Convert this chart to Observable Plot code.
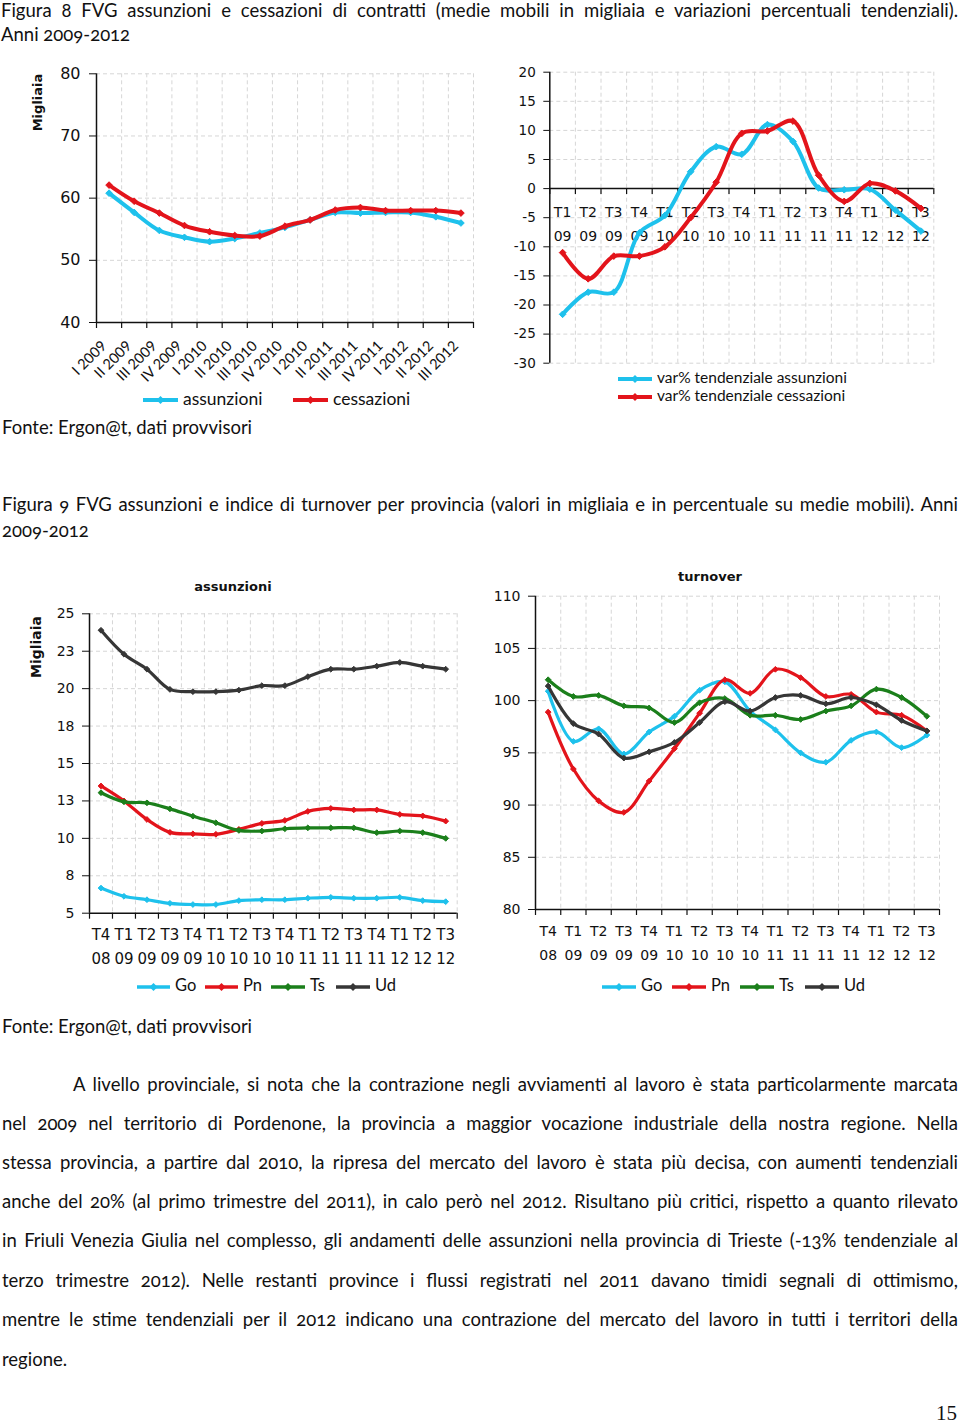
<!DOCTYPE html>
<html><head><meta charset="utf-8">
<script src="https://cdn.jsdelivr.net/npm/d3@7"></script>
<script src="https://cdn.jsdelivr.net/npm/@observablehq/plot@0.6"></script>
<style>
body{margin:0;background:#fff;}
#page{position:relative;width:960px;height:1425px;overflow:hidden;background:#fff;color:#111;font-family:Lato,"Open Sans",sans-serif;}
.tl{position:absolute;white-space:nowrap;line-height:1;font-variant-numeric:oldstyle-nums;}
.ch{position:absolute;}
.ch svg{max-width:none;overflow:visible;}
</style>
</head><body><div id="page"></div>
<script>
// ---------------- DATA ----------------
// Figura 8 (left): medie mobili in migliaia
const quarters8 = ["I 2009","II 2009","III 2009","IV 2009","I 2010","II 2010","III 2010","IV 2010","I 2010","II 2011","III 2011","IV 2011","I 2012","II 2012","III 2012"];
const assunzioni = [60.8,57.7,54.8,53.7,53.0,53.5,54.4,55.3,56.5,57.7,57.6,57.7,57.7,57.0,56.0];
const cessazioni = [62.1,59.5,57.6,55.6,54.6,54.0,53.9,55.5,56.5,58.1,58.5,58.0,58.0,58.0,57.6];
const yTicks8L = [40,50,60,70,80];

// Figura 8 (right): var% tendenziali
const quarterT8 = ["T1","T2","T3","T4","T1","T2","T3","T4","T1","T2","T3","T4","T1","T2","T3"];
const yearT8 = ["09","09","09","09","10","10","10","10","11","11","11","11","12","12","12"];
const varAssunzioni = [-21.6,-17.8,-17.8,-7.6,-4.6,2.9,7.2,5.9,11.0,8.1,0.1,-0.2,-0.1,-3.7,-7.3];
const varCessazioni = [-11.0,-15.5,-11.6,-11.6,-10.0,-5.0,1.1,9.5,9.9,11.6,2.3,-2.2,0.9,-0.4,-3.4];
const yTicks8R = [-30,-25,-20,-15,-10,-5,0,5,10,15,20];

// Figura 9: per provincia
const quarter9 = ["T4","T1","T2","T3","T4","T1","T2","T3","T4","T1","T2","T3","T4","T1","T2","T3"];
const year9 = ["08","09","09","09","09","10","10","10","10","11","11","11","11","12","12","12"];
const assGo = [6.68,6.13,5.9,5.66,5.58,5.58,5.84,5.9,5.9,6.0,6.06,6.0,6.0,6.06,5.84,5.77];
const assPn = [13.5,12.5,11.26,10.4,10.3,10.27,10.6,11.0,11.2,11.8,12.0,11.9,11.9,11.6,11.5,11.15];
const assTs = [13.05,12.44,12.37,11.97,11.48,11.04,10.53,10.49,10.64,10.7,10.7,10.7,10.38,10.49,10.38,10.0];
const assUd = [23.9,22.3,21.3,19.95,19.8,19.8,19.9,20.2,20.2,20.8,21.3,21.3,21.5,21.75,21.5,21.3];
const yTicks9L = [5,7.5,10,12.5,15,17.5,20,22.5,25];
const turnGo = [100.9,96.1,97.3,94.9,97.0,98.5,101.0,101.8,99.0,97.2,95.0,94.1,96.2,97.0,95.5,96.7];
const turnPn = [98.9,93.45,90.4,89.3,92.3,95.4,98.8,102.0,100.7,103.0,102.2,100.4,100.6,98.9,98.6,97.1];
const turnTs = [102.0,100.4,100.5,99.5,99.3,97.9,99.8,100.2,98.6,98.6,98.2,99.0,99.5,101.1,100.3,98.5];
const turnUd = [101.4,97.8,96.8,94.5,95.1,96.0,97.9,99.9,99.0,100.3,100.5,99.7,100.3,99.6,98.1,97.1];
const yTicks9R = [80,85,90,95,100,105,110];

const provinces = ["Go","Pn","Ts","Ud"];
const COL = {cyan:"#1ec1ec", red:"#e3141b", green:"#1b7f1b", dark:"#363636"};
const provColors = [COL.cyan, COL.red, COL.green, COL.dark];

// ---------------- HELPERS ----------------
const page = document.getElementById("page");
const plain = d => String(d);

function addLine(text, o) {
  const size = o.size;
  const d = document.createElement("div");
  d.className = "tl";
  d.textContent = text;
  d.style.fontSize = size + "px";
  d.style.fontFamily = o.family || "Lato, 'Open Sans', sans-serif";
  d.style.fontWeight = o.weight || 400;
  if (o.color) d.style.color = o.color;
  d.style.top = (o.y - 0.58 * size) + "px";
  page.appendChild(d);
  const w = d.getBoundingClientRect().width;
  let left = o.x;
  if (o.anchor === "middle") left = o.x - w / 2;
  d.style.left = left + "px";
  if (o.width) {
    if (w > o.width) {
      d.style.transformOrigin = "0 50%";
      d.style.transform = `scaleX(${o.width / w})`;
    } else if (o.justify) {
      const sp = (text.match(/ /g) || []).length;
      if (sp) d.style.wordSpacing = ((o.width - w) / sp) + "px";
    }
  }
  return d;
}

function addRotated(text, cx, cy, size) {
  const d = document.createElement("div");
  d.className = "tl";
  d.textContent = text;
  d.style.fontSize = size + "px";
  d.style.fontFamily = "'DejaVu Sans', Verdana, sans-serif";
  d.style.fontWeight = 700;
  page.appendChild(d);
  const r = d.getBoundingClientRect();
  d.style.left = (cx - r.width / 2) + "px";
  d.style.top = (cy - r.height / 2) + "px";
  d.style.transform = "rotate(-90deg)";
}

function legendItem(x1, x2, y, color, sw, label, size) {
  const w = x2 - x1;
  const svg = d3.create("svg").attr("width", w + 8).attr("height", 16)
    .style("position", "absolute").style("left", (x1 - 4) + "px").style("top", (y - 8) + "px");
  svg.append("line").attr("x1", 4).attr("x2", w + 4).attr("y1", 8).attr("y2", 8)
    .attr("stroke", color).attr("stroke-width", sw);
  svg.append("path").attr("d", d3.symbol(d3.symbolDiamond2, 40)())
    .attr("transform", `translate(${w / 2 + 4},8)`).attr("fill", color);
  page.appendChild(svg.node());
  addLine(label, {x: x2 + 5, y: y, size: size});
}

function placeChart(svg, left, top) {
  const div = document.createElement("div");
  div.className = "ch";
  div.style.left = left + "px";
  div.style.top = top + "px";
  div.appendChild(svg);
  page.appendChild(div);
}

const gridStyle = {stroke: "#d6d6d6", strokeDasharray: "4,3", strokeWidth: 1};

function seriesMarks(values, color, sw, r) {
  const rows = values.map((v, i) => ({x: i + 0.5, y: v}));
  return [
    Plot.line(rows, {x: "x", y: "y", stroke: color, strokeWidth: sw, curve: "catmull-rom", strokeLinejoin: "round", strokeLinecap: "round"}),
    Plot.dot(rows, {x: "x", y: "y", symbol: "diamond2", r: r, fill: color, stroke: color, strokeWidth: 1})
  ];
}

// ---------------- FIGURA 8 LEFT ----------------
{
  const n = quarters8.length;
  const yMin = yTicks8L[0];
  const chart = Plot.plot({
    width: 480, height: 330,
    marginLeft: 96, marginRight: 7, marginTop: 13.3, marginBottom: 68,
    style: {fontFamily: "'DejaVu Sans', Verdana, sans-serif", fontSize: "16px", color: "#111", background: "transparent", overflow: "visible"},
    x: {domain: [0, n], axis: null},
    y: {domain: [yTicks8L[0], yTicks8L[yTicks8L.length - 1]]},
    marks: [
      Plot.ruleY(yTicks8L.slice(1), gridStyle),
      Plot.ruleX(d3.range(1, n + 1), gridStyle),
      ...seriesMarks(assunzioni, COL.cyan, 4, 3),
      ...seriesMarks(cessazioni, COL.red, 4, 3),
      Plot.ruleX([0], {stroke: "#111", strokeWidth: 1.5}),
      Plot.ruleY([yMin], {stroke: "#111", strokeWidth: 1.5}),
      Plot.ruleX(d3.range(0, n + 1), {y1: yMin, y2: yMin, insetBottom: -6, stroke: "#111", strokeWidth: 1.2}),
      Plot.axisY(yTicks8L, {tickSize: 7, tickPadding: 9, label: null, fontSize: 16, tickFormat: plain}),
      Plot.text(d3.range(n), {x: i => i + 0.5, y: () => yMin, text: i => quarters8[i], rotate: -45, textAnchor: "end", dx: -5, dy: 21, fontSize: 14.5, fontFamily: "Lato, sans-serif", fill: "#111"})
    ]
  });
  placeChart(chart, 0, 60);
}

// ---------------- FIGURA 8 RIGHT ----------------
{
  const n = quarterT8.length;
  const chart = Plot.plot({
    width: 460, height: 313,
    marginLeft: 49.3, marginRight: 26.7, marginTop: 11.7, marginBottom: 10.3,
    style: {fontFamily: "'DejaVu Sans', Verdana, sans-serif", fontSize: "13.5px", color: "#111", background: "transparent", overflow: "visible"},
    x: {domain: [0, n], axis: null},
    y: {domain: [yTicks8R[0], yTicks8R[yTicks8R.length - 1]]},
    marks: [
      Plot.ruleY(yTicks8R.filter(t => t !== 0), gridStyle),
      Plot.ruleX(d3.range(1, n + 1), gridStyle),
      Plot.text(d3.range(n), {x: i => i + 0.5, y: () => 0, text: i => quarterT8[i], dy: 24, fontSize: 14, fill: "#111"}),
      Plot.text(d3.range(n), {x: i => i + 0.5, y: () => 0, text: i => yearT8[i], dy: 48, fontSize: 14, fill: "#111"}),
      Plot.ruleY([0], {stroke: "#111", strokeWidth: 1.5}),
      Plot.ruleX(d3.range(0, n + 1), {y1: 0, y2: 0, insetBottom: -6, stroke: "#111", strokeWidth: 1.2}),
      ...seriesMarks(varAssunzioni, COL.cyan, 4, 3),
      ...seriesMarks(varCessazioni, COL.red, 4, 3),
      Plot.ruleX([0], {stroke: "#111", strokeWidth: 1.5}),
      Plot.axisY(yTicks8R, {tickSize: 6, tickPadding: 8, label: null, fontSize: 13.5, tickFormat: plain})
    ]
  });
  placeChart(chart, 500, 60);
}

// ---------------- FIGURA 9 charts ----------------
function provChart(seriesVals, yTicks, fmt, dims) {
  const n = quarter9.length;
  const yMin = yTicks[0];
  const marks = [
    Plot.ruleY(yTicks.slice(1), gridStyle),
    Plot.ruleX(d3.range(1, n + 1), gridStyle)
  ];
  seriesVals.forEach((vals, k) => marks.push(...seriesMarks(vals, provColors[k], 3.2, 2.6)));
  marks.push(
    Plot.ruleX([0], {stroke: "#111", strokeWidth: 1.5}),
    Plot.ruleY([yMin], {stroke: "#111", strokeWidth: 1.5}),
    Plot.ruleX(d3.range(0, n + 1), {y1: yMin, y2: yMin, insetBottom: -6, stroke: "#111", strokeWidth: 1.2}),
    Plot.axisY(yTicks, {tickSize: 7, tickPadding: 8, label: null, tickFormat: fmt, fontSize: 14}),
    Plot.text(d3.range(n), {x: i => i + 0.5, y: () => yMin, text: i => quarter9[i], dy: 22, fontSize: dims.xFont, fill: "#111"}),
    Plot.text(d3.range(n), {x: i => i + 0.5, y: () => yMin, text: i => year9[i], dy: 46, fontSize: dims.xFont, fill: "#111"})
  );
  return Plot.plot({
    width: dims.width, height: dims.height,
    marginLeft: dims.ml, marginRight: dims.mr, marginTop: dims.mt, marginBottom: dims.mb,
    style: {fontFamily: "'DejaVu Sans', Verdana, sans-serif", fontSize: "14px", color: "#111", background: "transparent", overflow: "visible"},
    x: {domain: [0, n], axis: null},
    y: {domain: [yTicks[0], yTicks[yTicks.length - 1]]},
    marks
  });
}

placeChart(provChart([assGo, assPn, assTs, assUd], yTicks9L, d => String(Math.round(d)),
  {width: 470, height: 380, ml: 89, mr: 13.3, mt: 13.3, mb: 67.3, xFont: 15}), 0, 600);
placeChart(provChart([turnGo, turnPn, turnTs, turnUd], yTicks9R, plain,
  {width: 470, height: 400, ml: 55, mr: 11, mt: 15.7, mb: 71, xFont: 14}), 480, 580);

// ---------------- TEXT ----------------
addLine("Figura 8 FVG assunzioni e cessazioni di contratti (medie mobili in migliaia e variazioni percentuali tendenziali).", {x: 1, y: 12, size: 18.5, width: 957, justify: true});
addLine("Anni 2009-2012", {x: 1, y: 36, size: 18.5});

addRotated("Migliaia", 38, 102, 13);
legendItem(143, 178, 400, COL.cyan, 4, "assunzioni", 17.5);
legendItem(293, 328, 400, COL.red, 4, "cessazioni", 17.5);
legendItem(618, 652, 379, COL.cyan, 4, "var% tendenziale assunzioni", 15.5);
legendItem(618, 652, 397, COL.red, 4, "var% tendenziale cessazioni", 15.5);
addLine("Fonte: Ergon@t, dati provvisori", {x: 2, y: 429, size: 18.5});

addLine("Figura 9 FVG assunzioni e indice di turnover per provincia (valori in migliaia e in percentuale su medie mobili). Anni", {x: 2, y: 506, size: 18.5, width: 956, justify: true});
addLine("2009-2012", {x: 2, y: 532, size: 18.5});

addLine("assunzioni", {x: 233, y: 588, size: 13, weight: 700, anchor: "middle", family: "'DejaVu Sans', Verdana, sans-serif"});
addLine("turnover", {x: 710, y: 578, size: 13, weight: 700, anchor: "middle", family: "'DejaVu Sans', Verdana, sans-serif"});
addRotated("Migliaia", 36, 647, 14);

const legL = [[137,170],[205,238],[271,305],[336,370]];
const legR = [[602,636],[672,706],[740,774],[805,839]];
provinces.forEach((p, k) => {
  legendItem(legL[k][0], legL[k][1], 987, provColors[k], 3.5, p, 16.5);
  legendItem(legR[k][0], legR[k][1], 987, provColors[k], 3.5, p, 16.5);
});
addLine("Fonte: Ergon@t, dati provvisori", {x: 2, y: 1028, size: 18.5});

const body = [
  "A livello provinciale, si nota che la contrazione negli avviamenti al lavoro è stata particolarmente marcata",
  "nel 2009 nel territorio di Pordenone, la provincia a maggior vocazione industriale della nostra regione. Nella",
  "stessa provincia, a partire dal 2010, la ripresa del mercato del lavoro è stata più decisa, con aumenti tendenziali",
  "anche del 20% (al primo trimestre del 2011), in calo però nel 2012. Risultano più critici, rispetto a quanto rilevato",
  "in Friuli Venezia Giulia nel complesso, gli andamenti delle assunzioni nella provincia di Trieste (-13% tendenziale al",
  "terzo trimestre 2012). Nelle restanti province i flussi registrati nel 2011 davano timidi segnali di ottimismo,",
  "mentre le stime tendenziali per il 2012 indicano una contrazione del mercato del lavoro in tutti i territori della",
  "regione."
];
const bodyY = [1086, 1125, 1164, 1203, 1242, 1282, 1321, 1361];
body.forEach((t, i) => {
  const x = i === 0 ? 73 : 2;
  const last = i === body.length - 1;
  addLine(t, {x: x, y: bodyY[i], size: 18.5, width: last ? null : 958 - x, justify: !last});
});
addLine("15", {x: 936, y: 1415, size: 21, family: "'Liberation Serif', 'DejaVu Serif', serif"});
</script>
</body></html>
